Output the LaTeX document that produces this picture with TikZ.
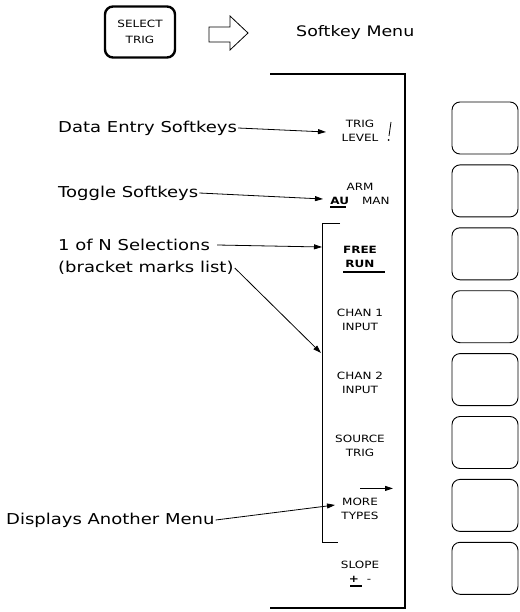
\documentclass[tikz,border=0pt]{standalone}
\usepackage{fontspec}
\setmainfont{DejaVu Sans}
\newfontfamily\plotfont[FakeStretch=1.2]{DejaVu Sans}
\newfontfamily\keyfont[FakeStretch=1.2]{DejaVu Sans}
\usetikzlibrary{arrows.meta, positioning}

\begin{document}
\begin{tikzpicture}[
  x=1pt, y=-1pt,
  node distance=62.9pt, on grid,
  callout/.style={anchor=west, inner sep=1pt, font=\plotfont\fontsize{15}{18}\selectfont},
  keylabel/.style={align=center, inner sep=1pt, font=\keyfont\fontsize{10}{14}\selectfont},
  softkey/.style={rectangle, rounded corners=8pt, draw, line width=0.9pt,
                  minimum width=66pt, minimum height=52pt},
  hardkey/.style={rectangle, rounded corners=8pt, draw, line width=2.4pt,
                  minimum width=70pt, minimum height=51pt, align=center,
                  font=\keyfont\fontsize{10}{16}\selectfont},
  pointer/.style={-{Triangle[length=8pt, width=5pt]}, line width=0.8pt},
  panel/.style={line width=1.4pt},
  selbar/.style={line width=2pt}
]
  \useasboundingbox (0,0) rectangle (519,612);

  % key and menu title
  \node[hardkey] (select) at (140,32) {SELECT\\TRIG};
  \draw[line width=0.8pt] (209,27) -- (230,27) -- (230,16) -- (248,33)
        -- (230,50) -- (230,42) -- (209,42) -- cycle;
  \node[callout, font=\plotfont\fontsize{14.5}{18}\selectfont] (menutitle) at (295,33) {Softkey Menu};

  % menu frame and bracket
  \draw[panel] (270,74) -- (405,74) -- (405,608) -- (270,608);
  \draw[line width=1pt] (340,223) -- (322,223) -- (322,542) -- (338,542);

  % softkeys
  \foreach \k in {0,...,7}
    \node[softkey] (key\k) at (485,{128+62.9*\k}) {};

  % menu labels
  \node[keylabel] (triglevel) at (360,131) {TRIG\\LEVEL};
  \node[keylabel, below=of triglevel] (arm) {ARM\\\textbf{AU}\hspace{13pt}MAN};
  \node[keylabel, below=of arm] (freerun) {\textbf{FREE}\\\textbf{RUN}};
  \node[keylabel, below=of freerun] (chan1) {CHAN 1\\INPUT};
  \node[keylabel, below=of chan1] (chan2) {CHAN 2\\INPUT};
  \node[keylabel, below=of chan2] (source) {SOURCE\\TRIG};
  \node[keylabel, below=of source] (more) {MORE\\TYPES};
  \node[keylabel, below=of more] (slope) {SLOPE\\\textbf{+}\hspace{8pt}-};

  \draw[line width=0.8pt] (391,122) -- (389,136);
  \fill (388.6,140) circle (1);
  \draw[selbar] ([xshift=-30pt, yshift=-13pt]arm.center) -- ++(16,0);
  \draw[selbar] ([xshift=-17pt, yshift=-15pt]freerun.center) -- ++(42,0);
  \draw[selbar] ([xshift=-10pt, yshift=-15pt]slope.center) -- ++(12,0);
  \draw[pointer] ([yshift=20pt]more.center) -- ++(33,0);

  % callouts
  \coordinate (trigtip) at (326,132);
  \coordinate (armtip) at (323,199);
  \coordinate (listtip) at (322,247);
  \coordinate (bracktip) at (321,353);
  \coordinate (moretip) at (335,505);

  \node[callout] (dataentry) at (57,128) {Data Entry Softkeys};
  \node[callout] (toggle) at (57,193) {Toggle Softkeys};
  \node[callout] (oneofn) at (57,245) {1 of N Selections};
  \node[callout] (listnote) at (57,268) {(bracket marks list)};
  \node[callout] (another) at (5,520) {Displays Another Menu};

  \draw[pointer] (dataentry.east) -- (trigtip);
  \draw[pointer] (toggle.east) -- (armtip);
  \draw[pointer] ([xshift=6pt]oneofn.east) -- (listtip);
  \draw[pointer] (listnote.east) -- (bracktip);
  \draw[pointer] (another.east) -- (moretip);
\end{tikzpicture}
\end{document}
